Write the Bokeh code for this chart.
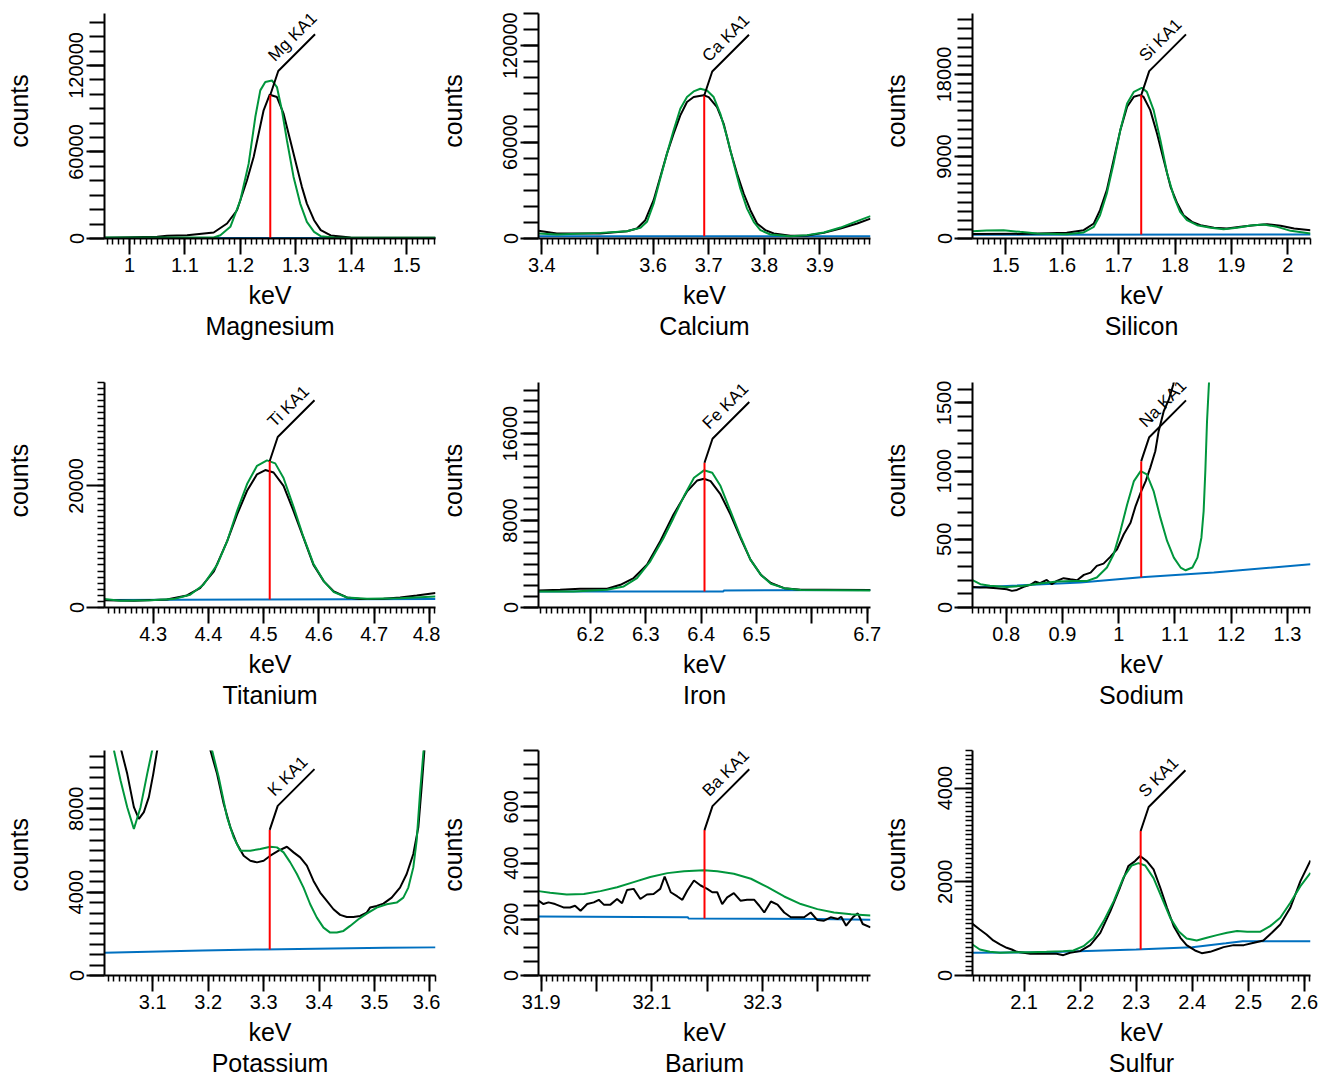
import math
from bokeh.plotting import figure
from bokeh.layouts import column, row
from bokeh.models import FixedTicker, Range1d
from bokeh.core.properties import value
from bokeh.embed import file_html
from bokeh.resources import INLINE

FONT = "Liberation Sans"
MEAS_COLOR = "#000000"
FIT_COLOR = "#00963c"
BG_COLOR = "#0070c0"
MARK_COLOR = "#ff0000"

# ---------------- Magnesium ----------------
mg_meas_kev = [0.955, 1.05, 1.068, 1.104, 1.152, 1.176, 1.194, 1.212, 1.224, 1.242, 1.253, 1.266,
               1.278, 1.290, 1.302, 1.311, 1.320, 1.333, 1.345, 1.363, 1.399, 1.552]
mg_meas = [500, 1200, 1850, 2300, 4150, 10400, 19600, 40400, 56500, 88900, 99700, 98100,
           86500, 68100, 49600, 35800, 24200, 12700, 5800, 2100, 700, 460]
mg_fit_kev = [0.955, 1.152, 1.164, 1.182, 1.200, 1.215, 1.227, 1.236, 1.245, 1.257, 1.266, 1.275,
              1.284, 1.296, 1.308, 1.320, 1.333, 1.345, 1.369, 1.552]
mg_fit = [700, 700, 2300, 8100, 26500, 51900, 84200, 102700, 108500, 109600, 105000, 88900,
          68100, 42700, 24200, 11500, 4600, 1600, 700, 460]
mg_bg_kev = [0.955, 1.552]
mg_bg = [300, 300]

# ---------------- Calcium ----------------
ca_meas_kev = [3.394, 3.427, 3.505, 3.553, 3.571, 3.586, 3.601, 3.613, 3.625, 3.637, 3.649, 3.661,
               3.673, 3.691, 3.700, 3.715, 3.727, 3.739, 3.751, 3.763, 3.775, 3.787, 3.802, 3.817,
               3.847, 3.877, 3.907, 3.937, 3.967, 3.991]
ca_meas = [4760, 3100, 3100, 4550, 6200, 11400, 23800, 38300, 52800, 65200, 76600, 84900,
           88000, 89100, 88000, 81800, 71400, 54800, 40400, 28000, 17600, 9300, 5200, 3100,
           1650, 1860, 3500, 6200, 9300, 12400]
ca_fit_kev = [3.394, 3.427, 3.505, 3.553, 3.577, 3.589, 3.601, 3.613, 3.625, 3.637, 3.649, 3.661,
              3.673, 3.685, 3.697, 3.709, 3.721, 3.733, 3.745, 3.757, 3.769, 3.781, 3.793, 3.811,
              3.847, 3.877, 3.907, 3.937, 3.967, 3.991]
ca_fit = [3100, 2500, 3500, 4550, 6600, 10400, 21700, 37300, 52800, 67300, 80700, 88000,
          91500, 93200, 92100, 88000, 77600, 63100, 46600, 31000, 18600, 10400, 5200, 2500,
          1450, 2100, 3700, 6800, 10800, 13900]
ca_bg_kev = [3.394, 3.991]
ca_bg = [1450, 1450]

# ---------------- Silicon ----------------
si_meas_kev = [1.441, 1.543, 1.608, 1.638, 1.656, 1.667, 1.679, 1.691, 1.703, 1.715, 1.727, 1.737,
               1.744, 1.756, 1.768, 1.780, 1.792, 1.804, 1.815, 1.830, 1.845, 1.869, 1.892, 1.916,
               1.940, 1.963, 1.987, 2.011, 2.040]
si_meas = [500, 510, 620, 915, 1650, 3110, 5310, 8600, 11900, 14460, 15560, 15740,
           15560, 14090, 11530, 8600, 5670, 3840, 2560, 1830, 1460, 1170, 1100, 1280,
           1460, 1570, 1390, 1100, 915]
si_fit_kev = [1.441, 1.466, 1.496, 1.525, 1.555, 1.608, 1.638, 1.656, 1.667, 1.679, 1.691, 1.703,
              1.715, 1.727, 1.741, 1.750, 1.762, 1.774, 1.786, 1.798, 1.809, 1.821, 1.839, 1.863,
              1.886, 1.910, 1.934, 1.957, 1.981, 2.005, 2.040]
si_fit = [800, 880, 915, 730, 550, 475, 660, 1280, 2560, 4940, 8240, 11900,
          14820, 16100, 16540, 16100, 14090, 10800, 7140, 4580, 2930, 2010, 1460, 1170,
          1020, 1170, 1430, 1540, 1280, 840, 550]
si_bg_kev = [1.441, 2.040]
si_bg = [400, 440]

# ---------------- Titanium ----------------
ti_meas_kev = [4.212, 4.265, 4.325, 4.361, 4.385, 4.410, 4.434, 4.452, 4.470, 4.488, 4.503, 4.518,
               4.536, 4.554, 4.572, 4.590, 4.609, 4.627, 4.651, 4.675, 4.717, 4.747, 4.777, 4.811]
ti_meas = [1210, 1100, 1320, 1980, 3200, 5950, 10900, 15300, 19200, 21900, 22600, 22200,
           20000, 15900, 11500, 7050, 4300, 2640, 1650, 1380, 1430, 1650, 1980, 2370]
ti_fit_kev = [4.212, 4.241, 4.295, 4.337, 4.367, 4.391, 4.416, 4.434, 4.452, 4.470, 4.488, 4.506,
              4.521, 4.536, 4.554, 4.572, 4.590, 4.609, 4.627, 4.651, 4.687, 4.747, 4.811]
ti_fit = [1380, 1100, 1210, 1380, 2090, 3750, 7050, 10900, 15900, 20300, 23300, 24200,
          23700, 21300, 16600, 11600, 7200, 4300, 2530, 1650, 1430, 1540, 1820]
ti_bg_kev = [4.212, 4.500, 4.811]
ti_bg = [1250, 1320, 1380]

# ---------------- Iron ----------------
fe_meas_kev = [6.106, 6.145, 6.181, 6.230, 6.254, 6.278, 6.302, 6.326, 6.350, 6.375, 6.393, 6.405,
               6.417, 6.435, 6.453, 6.471, 6.489, 6.508, 6.526, 6.550, 6.580, 6.622, 6.706]
fe_meas = [1570, 1630, 1720, 1720, 2090, 2710, 3940, 6090, 8550, 10710, 11690, 11850,
           11630, 10400, 8550, 6400, 4400, 3000, 2250, 1780, 1630, 1630, 1600]
fe_fit_kev = [6.106, 6.169, 6.230, 6.260, 6.284, 6.308, 6.332, 6.350, 6.369, 6.387, 6.405, 6.420,
              6.435, 6.453, 6.471, 6.489, 6.508, 6.526, 6.550, 6.580, 6.706]
fe_fit = [1480, 1480, 1630, 1940, 2710, 4250, 6400, 8240, 10250, 11940, 12620, 12400,
          11170, 8860, 6550, 4400, 3000, 2190, 1780, 1600, 1570]
fe_bg_kev = [6.106, 6.440, 6.441, 6.706]
fe_bg = [1480, 1480, 1570, 1600]

# ---------------- Sodium ----------------
na_meas_kev = [0.740, 0.754, 0.765, 0.783, 0.801, 0.810, 0.819, 0.831, 0.843, 0.852, 0.860, 0.872,
               0.881, 0.890, 0.902, 0.914, 0.926, 0.938, 0.950, 0.961, 0.973, 0.985, 0.997, 1.009,
               1.021, 1.030, 1.039, 1.048, 1.056, 1.065, 1.071, 1.080, 1.089, 1.097, 1.105]
na_meas = [151, 146, 146, 141, 134, 122, 129, 151, 166, 190, 178, 202,
           171, 195, 215, 207, 200, 239, 256, 305, 322, 371, 427, 537,
           622, 744, 842, 927, 1024, 1146, 1293, 1439, 1524, 1634, 1800]
na_fit_kev = [0.740, 0.754, 0.771, 0.801, 0.831, 0.860, 0.890, 0.920, 0.944, 0.961, 0.979, 0.991,
              1.003, 1.015, 1.027, 1.039, 1.050, 1.062, 1.074, 1.086, 1.098, 1.110, 1.119, 1.131,
              1.140, 1.147, 1.151, 1.154, 1.157, 1.160, 1.164]
na_fit = [200, 171, 159, 151, 159, 176, 190, 195, 195, 220, 293, 390,
          561, 756, 927, 1000, 976, 854, 659, 488, 366, 293, 273, 293,
          366, 512, 707, 1000, 1366, 1610, 1900]
na_bg_kev = [0.740, 0.932, 1.040, 1.169, 1.341]
na_bg = [146, 183, 222, 256, 317]

# ---------------- Potassium ----------------
k_meas_kev = [3.043, 3.054, 3.066, 3.075, 3.084, 3.093, 3.101, 3.108, 3.156, 3.204, 3.216, 3.228,
              3.240, 3.252, 3.264, 3.276, 3.288, 3.300, 3.312, 3.327, 3.342, 3.354, 3.366, 3.378,
              3.390, 3.402, 3.414, 3.426, 3.438, 3.450, 3.462, 3.474, 3.486, 3.492, 3.504, 3.516,
              3.531, 3.546, 3.558, 3.570, 3.579, 3.585, 3.590, 3.600]
k_meas = [10840, 9680, 8080, 7520, 7840, 8560, 9680, 10810, 13500, 10810, 9680, 8240,
          7110, 6310, 5750, 5510, 5430, 5510, 5750, 5990, 6180, 5910, 5670, 5270,
          4540, 3980, 3580, 3180, 2910, 2810, 2810, 2860, 3020, 3260, 3340, 3450,
          3740, 4220, 4870, 5830, 7110, 9040, 10810, 13500]
k_fit_kev = [3.030, 3.042, 3.054, 3.066, 3.078, 3.090, 3.099, 3.150, 3.207, 3.219, 3.234, 3.246,
             3.258, 3.276, 3.294, 3.312, 3.324, 3.336, 3.348, 3.360, 3.372, 3.384, 3.396, 3.408,
             3.420, 3.432, 3.444, 3.456, 3.471, 3.486, 3.504, 3.522, 3.540, 3.552, 3.561, 3.570,
             3.576, 3.582, 3.588, 3.598]
k_fit = [10810, 9360, 8080, 7030, 8080, 9680, 10810, 13500, 10810, 9520, 7600, 6630,
         5990, 5990, 6070, 6180, 6150, 5910, 5430, 4870, 4220, 3420, 2780, 2300,
         2060, 2060, 2140, 2380, 2700, 2970, 3260, 3420, 3500, 3740, 4220, 5190,
         6470, 8720, 10650, 13500]
k_bg_kev = [3.013, 3.190, 3.300, 3.520, 3.610]
k_bg = [1090, 1200, 1250, 1330, 1350]

# ---------------- Barium ----------------
ba_meas_kev = [31.895, 31.904, 31.913, 31.925, 31.940, 31.952, 31.961, 31.971, 31.983, 31.995,
               32.004, 32.013, 32.025, 32.037, 32.046, 32.055, 32.067, 32.079, 32.091, 32.103,
               32.115, 32.123, 32.134, 32.146, 32.155, 32.164, 32.176, 32.188, 32.200, 32.209,
               32.218, 32.227, 32.236, 32.248, 32.260, 32.272, 32.285, 32.294, 32.303, 32.315,
               32.327, 32.339, 32.351, 32.363, 32.375, 32.387, 32.399, 32.411, 32.423, 32.436,
               32.442, 32.451, 32.463, 32.472, 32.481, 32.495]
ba_meas = [266, 254, 260, 254, 242, 242, 248, 230, 254, 260,
           269, 252, 252, 272, 257, 304, 308, 272, 288, 290,
           308, 352, 296, 281, 269, 302, 338, 320, 308, 296,
           296, 254, 278, 293, 266, 269, 269, 248, 224, 263,
           252, 224, 207, 207, 207, 224, 197, 195, 207, 201,
           209, 177, 207, 221, 183, 171]
ba_fit_kev = [31.895, 31.916, 31.946, 31.977, 32.007, 32.037, 32.067, 32.097, 32.128, 32.158,
              32.194, 32.218, 32.248, 32.279, 32.309, 32.339, 32.369, 32.399, 32.429, 32.460,
              32.495]
ba_fit = [300, 294, 288, 290, 300, 314, 332, 350, 364, 371,
          374, 371, 362, 344, 314, 281, 254, 236, 224, 218,
          213]
ba_bg_kev = [31.895, 32.165, 32.166, 32.400, 32.495]
ba_bg = [210, 207, 203, 201, 198]

# ---------------- Sulfur ----------------
s_meas_kev = [2.008, 2.021, 2.033, 2.045, 2.057, 2.069, 2.078, 2.087, 2.099, 2.111, 2.129, 2.146,
              2.158, 2.170, 2.182, 2.200, 2.218, 2.236, 2.254, 2.271, 2.286, 2.298, 2.307, 2.319,
              2.331, 2.343, 2.355, 2.367, 2.379, 2.390, 2.405, 2.417, 2.432, 2.444, 2.456, 2.474,
              2.492, 2.510, 2.527, 2.542, 2.557, 2.575, 2.593, 2.611]
s_meas = [1103, 982, 876, 747, 662, 591, 555, 505, 484, 463, 463, 463,
          463, 434, 484, 520, 648, 911, 1374, 1872, 2334, 2441, 2548, 2441,
          2263, 1872, 1445, 1053, 804, 647, 534, 477, 505, 555, 605, 648,
          648, 698, 747, 911, 1089, 1445, 2014, 2455]
s_fit_kev = [2.008, 2.021, 2.039, 2.057, 2.081, 2.111, 2.140, 2.170, 2.188, 2.206, 2.224, 2.242,
             2.260, 2.277, 2.292, 2.304, 2.316, 2.331, 2.346, 2.361, 2.376, 2.390, 2.408, 2.426,
             2.444, 2.462, 2.480, 2.498, 2.521, 2.539, 2.557, 2.575, 2.593, 2.611]
s_fit = [662, 555, 505, 484, 498, 498, 505, 520, 534, 626, 804, 1160,
         1587, 2085, 2348, 2398, 2348, 2078, 1651, 1224, 939, 790, 747, 804,
         861, 911, 947, 932, 932, 1053, 1231, 1552, 1907, 2192]
s_bg_kev = [2.008, 2.140, 2.300, 2.400, 2.460, 2.490, 2.611]
s_bg = [484, 498, 555, 605, 690, 733, 733]

# ---------------- panel descriptions ----------------
element_names = ["Magnesium", "Calcium", "Silicon", "Titanium", "Iron", "Sodium",
                 "Potassium", "Barium", "Sulfur"]
line_names = ["Mg KA1", "Ca KA1", "Si KA1", "Ti KA1", "Fe KA1", "Na KA1",
              "K KA1", "Ba KA1", "S KA1"]
line_kev = [1.254, 3.692, 1.740, 4.511, 6.406, 1.040, 3.311, 32.195, 2.308]
marker_base = [300, 1450, 440, 1320, 1480, 222, 1250, 203, 555]
marker_top = [99500, 89000, 15740, 24100, 13320, 1073, 6990, 517, 3082]

x_limits = [(0.955, 1.552), (3.394, 3.991), (1.441, 2.040), (4.212, 4.811), (6.106, 6.706),
            (0.740, 1.341), (3.013, 3.610), (31.895, 32.495), (2.008, 2.611)]
y_limits = [(0, 156000), (0, 140000), (0, 24700), (0, 37000), (0, 20700),
            (0, 1650), (0, 10800), (0, 800), (0, 4800)]

x_major = [[1.0, 1.1, 1.2, 1.3, 1.4, 1.5],
           [3.4, 3.5, 3.6, 3.7, 3.8, 3.9],
           [1.5, 1.6, 1.7, 1.8, 1.9, 2.0],
           [4.3, 4.4, 4.5, 4.6, 4.7, 4.8],
           [6.2, 6.3, 6.4, 6.5, 6.6, 6.7],
           [0.8, 0.9, 1.0, 1.1, 1.2, 1.3],
           [3.1, 3.2, 3.3, 3.4, 3.5, 3.6],
           [31.9, 32.0, 32.1, 32.2, 32.3, 32.4],
           [2.1, 2.2, 2.3, 2.4, 2.5, 2.6]]
x_labels = [["1", "1.1", "1.2", "1.3", "1.4", "1.5"],
            ["3.4", "", "3.6", "3.7", "3.8", "3.9"],
            ["1.5", "1.6", "1.7", "1.8", "1.9", "2"],
            ["4.3", "4.4", "4.5", "4.6", "4.7", "4.8"],
            ["6.2", "6.3", "6.4", "6.5", "", "6.7"],
            ["0.8", "0.9", "1", "1.1", "1.2", "1.3"],
            ["3.1", "3.2", "3.3", "3.4", "3.5", "3.6"],
            ["31.9", "", "32.1", "", "32.3", ""],
            ["2.1", "2.2", "2.3", "2.4", "2.5", "2.6"]]
y_major = [[0, 60000, 120000], [0, 60000, 120000], [0, 9000, 18000],
           [0, 20000], [0, 8000, 16000], [0, 500, 1000, 1500],
           [0, 4000, 8000], [0, 200, 400, 600], [0, 2000, 4000]]
y_mid_step = [10000, 10000, 1000, 5000, 1000, 100, 500, 50, 500]
y_minor_step = [None, None, None, 1000, None, None, None, None, 100]

curves = [
    (mg_meas_kev, mg_meas, mg_fit_kev, mg_fit, mg_bg_kev, mg_bg),
    (ca_meas_kev, ca_meas, ca_fit_kev, ca_fit, ca_bg_kev, ca_bg),
    (si_meas_kev, si_meas, si_fit_kev, si_fit, si_bg_kev, si_bg),
    (ti_meas_kev, ti_meas, ti_fit_kev, ti_fit, ti_bg_kev, ti_bg),
    (fe_meas_kev, fe_meas, fe_fit_kev, fe_fit, fe_bg_kev, fe_bg),
    (na_meas_kev, na_meas, na_fit_kev, na_fit, na_bg_kev, na_bg),
    (k_meas_kev, k_meas, k_fit_kev, k_fit, k_bg_kev, k_bg),
    (ba_meas_kev, ba_meas, ba_fit_kev, ba_fit, ba_bg_kev, ba_bg),
    (s_meas_kev, s_meas, s_fit_kev, s_fit, s_bg_kev, s_bg),
]

# ---------------- layout geometry (pixels) ----------------
# per column: y-title strip width, left border, frame width, right border, title centre in strip
COLS = [(40, 64, 331, 5, 18), (40, 58, 332, 11, 12), (39, 52, 338, 16, 14)]
ROWS = [(13, 225, 130), (14, 225, 129), (14, 225, 107)]    # top border, frame height, bottom border
YTITLE_SHIFT = 34         # offset that puts the rotated "counts" title level with the frame centre

X_MAJOR_LEN, X_MINOR_LEN = 16, 6
Y_MAJOR_LEN, Y_MID_LEN, Y_MINOR_LEN = 18, 15, 7
KINK_DX, KINK_DY, DIAG_LEN = 8, 24, 52
LABEL_ALONG, LABEL_PERP = 4, 14


def grid_positions(lo, hi, step):
    out = []
    k = math.ceil(lo / step - 1e-9)
    while k * step <= hi + 1e-9:
        out.append(round(k * step, 6))
        k += 1
    return out


def make_ytitle(i):
    r, c = divmod(i, 3)
    sw, _, _, _, tx = COLS[c]
    top, fh, bottom = ROWS[r]
    h = top + fh + bottom
    f = figure(width=sw, height=h, x_range=Range1d(0, sw), y_range=Range1d(0, h),
               min_border=0, output_backend="svg", toolbar_location=None,
               x_axis_type=None, y_axis_type=None)
    f.outline_line_color = None
    f.xgrid.visible = False
    f.ygrid.visible = False
    f.text(x=[tx], y=[h - top - fh / 2 - YTITLE_SHIFT], text=["counts"], angle=math.pi / 2,
           text_font=value(FONT), text_font_size="25px", text_color="black",
           text_align="center", text_baseline="middle")
    return f


def make_panel(i):
    r, c = divmod(i, 3)
    _, left, fw, right, _ = COLS[c]
    top, fh, bottom = ROWS[r]
    x0, x1 = x_limits[i]
    y0, y1 = y_limits[i]
    sx = fw / (x1 - x0)
    sy = fh / (y1 - y0)

    p = figure(frame_width=fw, frame_height=fh,
               min_border_left=left, min_border_right=right,
               min_border_top=top, min_border_bottom=bottom,
               x_range=Range1d(x0, x1), y_range=Range1d(y0, y1),
               output_backend="svg", toolbar_location=None,
               title=element_names[i], title_location="below")
    p.outline_line_color = None
    p.xgrid.visible = False
    p.ygrid.visible = False
    p.background_fill_color = "white"
    p.border_fill_color = "white"

    p.title.align = "center"
    p.title.text_font = FONT
    p.title.text_font_size = "25px"
    p.title.text_font_style = "normal"
    p.title.text_color = "black"
    p.title.standoff = -4
    p.title.offset = 0

    # x axis
    xa = p.xaxis[0]
    xa.ticker = FixedTicker(ticks=x_major[i], minor_ticks=grid_positions(x0, x1, 0.01))
    xa.major_label_overrides = {t: s for t, s in zip(x_major[i], x_labels[i])}
    xa.axis_label = "keV"
    for ax in (xa, p.yaxis[0]):
        ax.axis_label_text_font = FONT
        ax.axis_label_text_font_size = "25px"
        ax.axis_label_text_font_style = "normal"
        ax.major_label_text_font = FONT
        ax.major_label_text_font_size = "20px"
        ax.axis_line_width = 2
        ax.major_tick_line_width = 2
        ax.minor_tick_line_width = 1.5
        ax.major_tick_in = 0
        ax.minor_tick_in = 0
        ax.axis_line_color = "black"
        ax.major_tick_line_color = "black"
        ax.minor_tick_line_color = "black"
        ax.major_label_text_color = "black"
        ax.axis_label_text_color = "black"
    xa.major_tick_out = X_MAJOR_LEN
    xa.minor_tick_out = X_MINOR_LEN
    xa.major_label_standoff = 3
    xa.axis_label_standoff = 6

    # y axis
    ya = p.yaxis[0]
    ya.major_label_orientation = "vertical"
    ya.major_tick_out = Y_MAJOR_LEN
    ya.major_label_standoff = 3
    ya.major_label_overrides = {t: str(t) for t in y_major[i]}
    if y_minor_step[i] is None:
        ya.ticker = FixedTicker(ticks=y_major[i], minor_ticks=grid_positions(y0, y1, y_mid_step[i]))
        ya.minor_tick_out = Y_MID_LEN
        ya.minor_tick_line_width = 2
    else:
        ya.ticker = FixedTicker(ticks=y_major[i], minor_ticks=grid_positions(y0, y1, y_minor_step[i]))
        ya.minor_tick_out = Y_MINOR_LEN

    mk, mv, fk, fv, bk, bv = curves[i]
    p.line(bk, bv, line_color=BG_COLOR, line_width=2)
    p.line(mk, mv, line_color=MEAS_COLOR, line_width=2)
    p.line(fk, fv, line_color=FIT_COLOR, line_width=2)
    p.segment(x0=[line_kev[i]], y0=[marker_base[i]], x1=[line_kev[i]], y1=[marker_top[i]],
              line_color=MARK_COLOR, line_width=2)

    # leader line and line name
    kx = line_kev[i] + KINK_DX / sx
    ky = marker_top[i] + KINK_DY / sy
    d = DIAG_LEN / math.sqrt(2)
    ex = kx + d / sx
    ey = ky + d / sy
    p.line([line_kev[i], kx, ex], [marker_top[i], ky, ey], line_color="black", line_width=2)
    a = LABEL_ALONG / math.sqrt(2)
    q = LABEL_PERP / math.sqrt(2)
    tx = kx + (a - q) / sx
    ty = ky + (a + q) / sy
    p.text(x=[tx], y=[ty], text=[line_names[i]], angle=math.pi / 4,
           text_font=value(FONT), text_font_size="17px", text_color="black",
           text_align="left", text_baseline="alphabetic")
    return p


rows = []
for r in range(3):
    cells = []
    for c in range(3):
        i = 3 * r + c
        cells.extend([make_ytitle(i), make_panel(i)])
    rows.append(row(*cells))
layout = column(*rows)

open("out.html", "w").write(file_html(layout, INLINE))
